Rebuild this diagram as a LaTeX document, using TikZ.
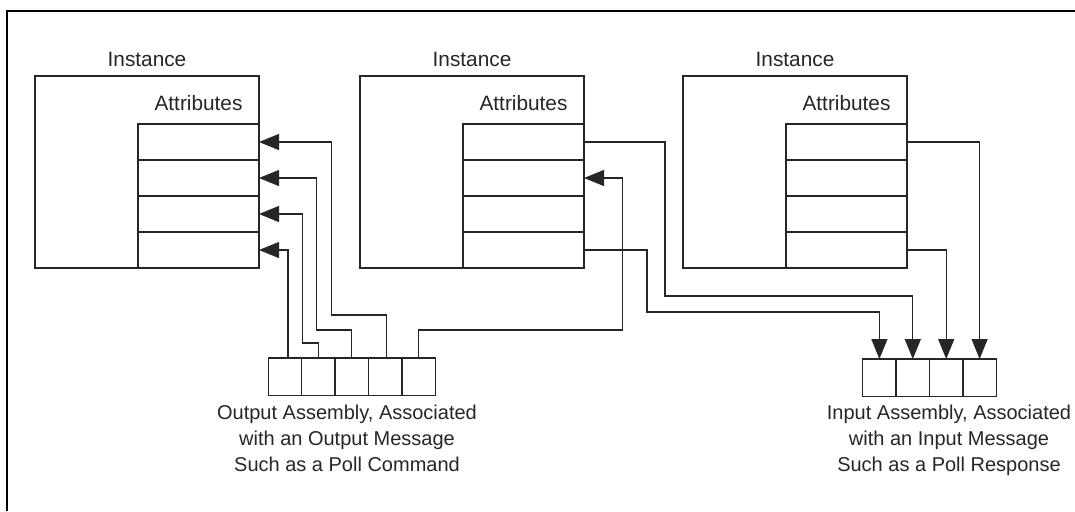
\documentclass[tikz,border=0pt]{standalone}
\usepackage{fontspec}
\setmainfont{Liberation Sans}
\usetikzlibrary{arrows.meta, positioning}

\tikzset{
	frameline/.style={line width=1pt},
	instbox/.style={draw=black!85, line width=.65pt, minimum width=112pt, minimum height=96pt, inner sep=0pt, outer sep=0pt},
	attcell/.style={draw=black!85, line width=.65pt, minimum width=60.5pt, minimum height=18pt, inner sep=0pt, outer sep=0pt},
	asmcell/.style={draw=black!85, line width=.65pt, minimum width=16.7pt, minimum height=18.8pt, inner sep=0pt, outer sep=0pt},
	boxtitle/.style={font=\fontsize{10.4}{12}\selectfont, text=black!85, inner sep=0pt},
	asmtext/.style={align=center, font=\fontsize{10}{13}\selectfont, text=black!85, inner sep=0pt},
	wire/.style={->, draw=black!85, line width=.65pt},
}

\begin{document}
\begin{tikzpicture}[x=.5pt, y=-.5pt, >={Triangle[length=10pt, width=8pt]}]
	\useasboundingbox (0,0) rectangle (1075,511);
	\draw[frameline] (7,511) -- (7,11) -- (1075,11);

	% --- instances with their attribute stacks ---
	\foreach \i/\x in {1/35, 2/360, 3/683} {
		\node[instbox, anchor=north west] (inst\i) at (\x,76) {};
		\node[boxtitle, anchor=base] (title\i) at ([yshift=5pt]inst\i.north) {Instance};
		\node[attcell, anchor=north east] (att\i-1) at ([yshift=-24pt]inst\i.north east) {};
		\node[attcell, below=0pt of att\i-1] (att\i-2) {};
		\node[attcell, below=0pt of att\i-2] (att\i-3) {};
		\node[attcell, below=0pt of att\i-3] (att\i-4) {};
		\node[boxtitle, anchor=base] (attname\i) at ([yshift=7pt]att\i-1.north) {Attributes};
	}

	% --- assemblies ---
	\node[asmcell, anchor=north west] (out1) at (268.3,358) {};
	\foreach \j/\k in {2/1, 3/2, 4/3, 5/4}
		\node[asmcell, right=0pt of out\k] (out\j) {};
	\node[asmcell, anchor=north west] (in1) at (862.7,359) {};
	\foreach \j/\k in {2/1, 3/2, 4/3}
		\node[asmcell, right=0pt of in\k] (in\j) {};

	\node[asmtext, anchor=north] (outtext) at (347,405) {Output Assembly, Associated\\with an Output Message\\Such as a Poll Command};
	\node[asmtext, anchor=north] (intext) at (949,405) {Input Assembly, Associated\\with an Input Message\\Such as a Poll Response};

	% --- output assembly into the attributes ---
	\draw[wire] ([xshift=1.5pt]out1.north) |- (att1-4.east);
	\draw[wire] (out2.north) |- ++(-16,-15) |- (att1-3.east);
	\draw[wire] (out3.north) |- ++(-35,-28) |- (att1-2.east);
	\draw[wire] ([xshift=.8pt]out4.north) |- ++(-55,-43) |- (att1-1.east);
	\draw[wire] (out5.north) |- ++(204,-28) |- (att2-2.east);

	% --- attributes into the input assembly ---
	\draw[wire] (att2-4.east) -| ++(63,62) -| (in1.north);
	\draw[wire] (att2-1.east) -| ++(81,154) -| (in2.north);
	\draw[wire] (att3-4.east) -| (in3.north);
	\draw[wire] (att3-1.east) -| (in4.north);
\end{tikzpicture}
\end{document}
